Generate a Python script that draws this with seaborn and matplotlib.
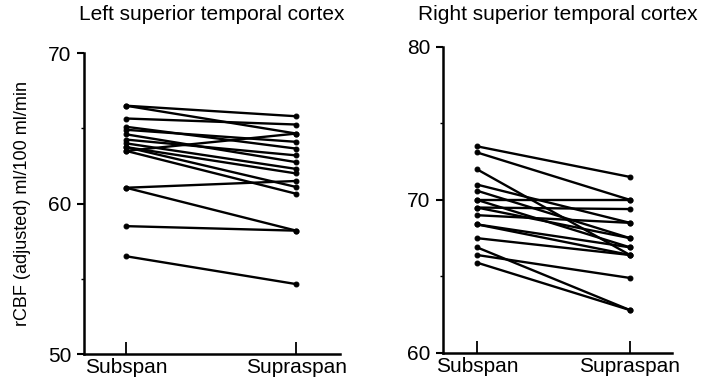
import numpy as np
import pandas as pd
import seaborn as sns
import matplotlib.pyplot as plt
from matplotlib.ticker import MultipleLocator

# Values (rCBF, adjusted, ml/100 ml/min), one pair per subject
conditions = ['Subspan', 'Supraspan']

left_sub = [66.5, 66.5, 65.65, 65.1, 64.9, 64.6, 64.25, 64.0, 63.75,
            63.5, 63.75, 61.05, 61.05, 58.5, 56.5, 63.5]
left_supra = [65.8, 64.65, 65.25, 63.65, 64.1, 62.75, 63.2, 62.3, 62.0,
              60.65, 61.1, 61.5, 58.2, 58.2, 54.65, 64.65]

right_sub = [73.5, 73.1, 72.0, 71.0, 70.6, 70.0, 70.0, 69.5, 69.0,
             68.4, 67.5, 66.9, 66.4, 65.9, 69.5, 68.4]
right_supra = [71.5, 70.0, 66.4, 68.5, 67.5, 70.0, 66.9, 69.4, 68.5,
               66.9, 66.4, 62.8, 64.9, 62.8, 67.5, 66.4]


def long_form(sub, supra):
    n = len(sub)
    return pd.DataFrame({
        'subject': list(range(n)) * 2,
        'cond': [0] * n + [1] * n,
        'rcbf': list(sub) + list(supra),
    })


sns.set_style('white')
plt.rcParams['font.family'] = ['Liberation Sans', 'DejaVu Sans']
# pure black text and ticks, like the printed figure
for key in ['text.color', 'axes.labelcolor', 'xtick.color', 'ytick.color']:
    plt.rcParams[key] = 'black'

fig = plt.figure(figsize=(7.18, 3.87), dpi=100)
ax1 = fig.add_axes([0.117, 0.085, 0.357, 0.778])
ax2 = fig.add_axes([0.617, 0.088, 0.319, 0.791])

panels = [
    (ax1, left_sub, left_supra, (50, 70), (-0.247, 1.259), 'Left superior temporal cortex'),
    (ax2, right_sub, right_supra, (60, 80), (-0.222, 1.275), 'Right superior temporal cortex'),
]

for ax, sub, supra, ylim, xlim, title in panels:
    df = long_form(sub, supra)
    sns.lineplot(data=df, x='cond', y='rcbf', units='subject', estimator=None,
                 color='black', lw=1.7, marker='o', markersize=3.5,
                 markeredgecolor='black', ax=ax)
    ax.set_xlim(*xlim)
    ax.set_ylim(*ylim)
    ax.set_xticks([0, 1])
    ax.set_xticklabels(conditions)
    ax.set_yticks([ylim[0], ylim[0] + 10, ylim[1]])
    ax.yaxis.set_minor_locator(MultipleLocator(5))
    ax.set_xlabel('')
    ax.set_ylabel('')
    sns.despine(ax=ax)
    for s in ['left', 'bottom']:
        ax.spines[s].set_linewidth(1.8)
        ax.spines[s].set_color('black')
    ax.tick_params(axis='x', direction='in', length=9, width=1.3,
                   labelsize=15, pad=3, bottom=True)
    ax.tick_params(axis='y', which='major', direction='out', length=5,
                   width=1.5, labelsize=15, pad=4, left=True)
    ax.tick_params(axis='y', which='minor', direction='out', length=2.5,
                   width=1.0, left=True)
    # panel title placed at a fixed height, centred over the axes
    bb = ax.get_position()
    fig.text((bb.x0 + bb.x1) / 2, 1 - 14 / 387, title, fontsize=15,
             ha='center', va='center')

ax1.set_ylabel('rCBF (adjusted) ml/100 ml/min', fontsize=13, labelpad=12)

fig.savefig('out.png', dpi=100)
